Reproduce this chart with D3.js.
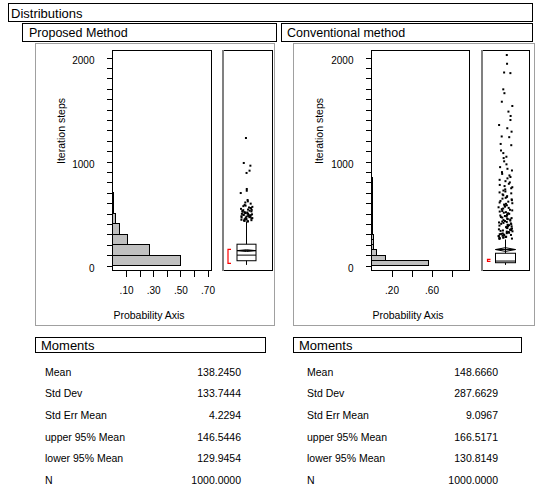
<!DOCTYPE html>
<html>
<head>
<meta charset="utf-8">
<script src="https://cdn.jsdelivr.net/npm/d3@7"></script>
<style>
  body { margin: 0; background: #fff; }
  text { font-family: "Liberation Sans", Arial, sans-serif; fill: #000; }
</style>
</head>
<body>
<div id="chart"></div>
<script>
// histogram probabilities, proposed method uses bins of 100, conventional bins of 50
var leftBinWidth = 100,
    leftProb = [0.50, 0.27, 0.109, 0.053, 0.025, 0.006, 0.004, 0.002, 0.002, 0.002, 0, 0, 0.001];
var rightBinWidth = 50,
    rightProb = [0.565, 0.14, 0.05, 0.02, 0.016, 0.015, 0.013, 0.012, 0.011, 0.01,
                 0.009, 0.008, 0.008, 0.007, 0.006, 0.005, 0.005, 0.004, 0.004, 0.004,
                 0.003, 0.003, 0.003, 0.003, 0.003, 0.003, 0.003, 0.002, 0.002, 0.002,
                 0.002, 0.002, 0.001, 0.002, 0, 0, 0.002, 0, 0.001, 0, 0.001];

// box plot: whisker low, Q1, median, Q3, whisker high
var leftQuart = [1, 41, 95, 200, 417],
    rightQuart = [1, 22, 38, 113, 245];
// mean, lower 95%, upper 95%
var leftMean = [138.245, 129.9454, 146.5446],
    rightMean = [148.666, 130.8149, 166.5171];
// shortest half bracket
var leftHalf = [16, 151],
    rightHalf = [35, 55];

var leftOutliers = [1221, 981, 955, 907, 885, 731, 714, 692, 625, 612, 601, 590,
  578, 571, 566, 559, 553, 548, 546, 540, 533, 531, 527, 522, 519, 515, 512, 508,
  505, 503, 499, 496, 492, 490, 487, 484, 481, 478, 476, 472, 469, 466, 463, 460,
  457, 454, 451, 448, 445, 441, 438, 435, 431, 428, 424, 421, 418];
var rightOutliers = [2019, 1935, 1851, 1845, 1689, 1652, 1570, 1529, 1475, 1433, 1394,
  1346, 1315, 1282, 1236, 1229, 1164, 1152, 1101, 1076, 1041, 1028, 997, 968, 941, 925,
  909, 893, 876, 861, 846, 833, 819, 806, 794, 781, 770, 759, 748, 738, 727, 716, 707,
  698, 689, 679, 671, 662, 654, 646, 638, 631, 623, 616, 609, 601, 594, 588, 581, 574,
  568, 561, 555, 549, 543, 537, 531, 525, 519, 514, 508, 503, 497, 492, 486, 481, 476,
  471, 466, 461, 456, 451, 446, 441, 437, 432, 427, 423, 418, 414, 409, 405, 400, 396,
  392, 387, 383, 379, 375, 371, 367, 363, 359, 355, 351, 347, 343, 339, 335, 332, 328,
  324, 321, 317, 313, 310, 306, 303, 299, 296, 292, 289, 286, 282, 279, 276, 272, 269,
  266, 263, 260, 257, 254, 251];

var leftXTicks = [0.1, 0.2, 0.3, 0.4, 0.5, 0.6, 0.7],
    leftXLabels = [0.1, 0.3, 0.5, 0.7];
var rightXTicks = [0.2, 0.4, 0.6, 0.8],
    rightXLabels = [0.2, 0.6];
var yLabels = [0, 1000, 2000];

var momentNames = ["Mean", "Std Dev", "Std Err Mean", "upper 95% Mean", "lower 95% Mean", "N"];
var leftMoments = ["138.2450", "133.7444", "4.2294", "146.5446", "129.9454", "1000.0000"],
    rightMoments = ["148.6660", "287.6629", "9.0967", "166.5171", "130.8149", "1000.0000"];

var width = 539, height = 498;

var svg = d3.select("#chart").append("svg")
    .attr("width", width)
    .attr("height", height)
    .style("display", "block");

svg.append("rect").attr("width", width).attr("height", height).attr("fill", "#fff");

// horizontal scatter of the outlier points (layout only)
function spread(i) {
  var s = Math.sin(i * 12.9898 + 78.233) * 43758.5453;
  return (s - Math.floor(s)) * 2 - 1;
}

function headerBox(x0, y0, x1, y1, label, size, tx) {
  svg.append("rect")
      .attr("x", x0 + 0.5).attr("y", y0 + 0.5)
      .attr("width", x1 - x0).attr("height", y1 - y0)
      .attr("fill", "#fff").attr("stroke", "#000");
  svg.append("text")
      .attr("x", tx).attr("y", (y0 + y1) / 2 + 1)
      .attr("dy", "0.35em")
      .style("font-size", size + "px")
      .text(label);
}

headerBox(8, 3, 532, 21, "Distributions", 13, 11);
headerBox(22, 23, 276, 41, "Proposed Method", 12.5, 29);
headerBox(281, 23, 532, 41, "Conventional method", 12.5, 287);

function panel(p) {
  var g = svg.append("g").attr("shape-rendering", "crispEdges");

  g.append("rect")
      .attr("x", p.frame[0] + 0.5).attr("y", p.frame[1] + 0.5)
      .attr("width", p.frame[2] - p.frame[0]).attr("height", p.frame[3] - p.frame[1])
      .attr("fill", "none").attr("stroke", "#a0a0a0");

  var y = d3.scaleLinear().domain([0, 2000]).range([265, 57]);
  var x = d3.scaleLinear().domain([0, p.xMax]).range([p.x0, p.xEnd]);
  var top = 50, bottom = 270;

  // histogram bars
  g.selectAll(".bar").data(p.prob).enter().append("rect")
      .attr("class", "bar")
      .attr("x", x(0) + 0.5)
      .attr("y", function(d, i) { return Math.round(y((i + 1) * p.binWidth)) + 0.5; })
      .attr("width", function(d) { return Math.max(0, x(d) - x(0)); })
      .attr("height", function(d, i) { return Math.round(y(i * p.binWidth)) - Math.round(y((i + 1) * p.binWidth)); })
      .attr("fill", "#c0c0c0")
      .attr("stroke", function(d) { return d > 0 ? "#000" : "none"; });

  // plot frames
  g.append("rect")
      .attr("x", p.x0 + 0.5).attr("y", top + 0.5)
      .attr("width", p.x1 - p.x0).attr("height", bottom - top)
      .attr("fill", "none").attr("stroke", "#000");
  g.append("rect")
      .attr("x", p.bx0 + 0.5).attr("y", top + 0.5)
      .attr("width", p.bx1 - p.bx0).attr("height", bottom - top)
      .attr("fill", "none").attr("stroke", "#000");
  g.append("line")
      .attr("x1", p.bx0 + 0.5).attr("x2", p.bx0 + 0.5)
      .attr("y1", top).attr("y2", bottom + 1)
      .attr("stroke", "#808080").attr("stroke-width", 2);

  // y axis
  var yAxis = d3.axisLeft(y)
      .tickValues(d3.range(0, 2001, 100))
      .tickSize(6)
      .tickPadding(12)
      .tickFormat(function(d) { return yLabels.indexOf(d) >= 0 ? d : ""; });
  var ya = svg.append("g")
      .attr("transform", "translate(" + (p.x0 + 0.5) + ",0.5)")
      .call(yAxis);
  ya.select(".domain").remove();
  ya.selectAll("line").attr("stroke", "#000").attr("shape-rendering", "crispEdges");
  ya.selectAll("text")
      .attr("dy", "0.55em")
      .style("font-size", "10px")
      .style("font-family", "'Liberation Sans', Arial, sans-serif");

  // x axis
  var xAxis = d3.axisBottom(x)
      .tickValues(p.xTicks)
      .tickSize(6)
      .tickPadding(10)
      .tickFormat(function(d) {
        return p.xLabels.indexOf(d) >= 0 ? d3.format(".2f")(d).replace(/^0/, "") : "";
      });
  var xa = svg.append("g")
      .attr("transform", "translate(0.5," + (bottom + 0.5) + ")")
      .call(xAxis);
  xa.select(".domain").remove();
  xa.selectAll("line").attr("stroke", "#000").attr("shape-rendering", "crispEdges");
  xa.selectAll("text")
      .style("font-size", "10px")
      .style("font-family", "'Liberation Sans', Arial, sans-serif");

  svg.append("text")
      .attr("x", p.x0 + 37).attr("y", 319)
      .attr("text-anchor", "middle")
      .style("font-size", "10.5px")
      .text("Probability Axis");

  svg.append("text")
      .attr("transform", "translate(" + p.labelX + ",131) rotate(-90)")
      .attr("text-anchor", "middle")
      .style("font-size", "10.5px")
      .text("Iteration steps");

  // outlier box plot
  var q = p.quart, cx = p.cx, hw = p.boxHalf;
  var bp = svg.append("g");
  bp.append("line")
      .attr("x1", cx).attr("x2", cx)
      .attr("y1", y(q[0])).attr("y2", y(q[4]))
      .attr("stroke", "#000");
  bp.append("rect")
      .attr("x", cx - hw).attr("y", y(q[3]))
      .attr("width", 2 * hw).attr("height", y(q[1]) - y(q[3]))
      .attr("fill", "#fff").attr("stroke", "#000");
  bp.append("line")
      .attr("x1", cx - hw).attr("x2", cx + hw)
      .attr("y1", y(q[2])).attr("y2", y(q[2]))
      .attr("stroke", "#000");
  var m = p.mean;
  bp.append("path")
      .attr("d", "M" + (cx - hw) + "," + y(m[0]) +
                 "L" + cx + "," + y(m[2]) +
                 "L" + (cx + hw) + "," + y(m[0]) +
                 "L" + cx + "," + y(m[1]) + "Z")
      .attr("fill", "none").attr("stroke", "#000");
  bp.append("line")
      .attr("x1", cx - hw).attr("x2", cx + hw)
      .attr("y1", y(m[0])).attr("y2", y(m[0]))
      .attr("stroke", "#000");

  // shortest half
  var h0 = y(p.half[0]), h1 = y(p.half[1]), bx = p.bracketX;
  bp.append("path")
      .attr("d", "M" + (bx + 3) + "," + h1 + "H" + bx + "V" + h0 + "H" + (bx + 3))
      .attr("fill", "none").attr("stroke", "#ff0000").attr("stroke-width", 1.2);

  bp.selectAll(".out").data(p.outliers).enter().append("rect")
      .attr("class", "out")
      .attr("x", function(d, i) { return cx - 1 + spread(i + p.seed) * p.jitter; })
      .attr("y", function(d) { return y(d) - 1; })
      .attr("width", 2).attr("height", 2)
      .attr("fill", "#000");
}

panel({
  frame: [35, 43, 274, 325],
  x0: 112, x1: 211, xEnd: 207, xMax: 0.7,
  bx0: 222, bx1: 272,
  prob: leftProb, binWidth: leftBinWidth,
  xTicks: leftXTicks, xLabels: leftXLabels,
  labelX: 65,
  quart: leftQuart, mean: leftMean, half: leftHalf,
  cx: 246.5, boxHalf: 9.5, bracketX: 228,
  outliers: leftOutliers, jitter: 6, seed: 3
});

panel({
  frame: [293, 43, 534, 325],
  x0: 371, x1: 469, xEnd: 451, xMax: 0.8,
  bx0: 481, bx1: 529,
  prob: rightProb, binWidth: rightBinWidth,
  xTicks: rightXTicks, xLabels: rightXLabels,
  labelX: 323,
  quart: rightQuart, mean: rightMean, half: rightHalf,
  cx: 505.5, boxHalf: 10, bracketX: 487.5,
  outliers: rightOutliers, jitter: 7, seed: 11
});

// moments tables
function moments(x0, x1, labelX, valueX, values) {
  headerBox(x0, 337, x1, 352, "Moments", 13, x0 + 6);
  var rows = svg.append("g");
  rows.selectAll(".lab").data(momentNames).enter().append("text")
      .attr("x", labelX)
      .attr("y", function(d, i) { return 372 + i * 21.7; })
      .attr("dy", "0.35em")
      .style("font-size", "10.5px")
      .text(function(d) { return d; });
  rows.selectAll(".val").data(values).enter().append("text")
      .attr("x", valueX)
      .attr("y", function(d, i) { return 372 + i * 21.7; })
      .attr("dy", "0.35em")
      .attr("text-anchor", "end")
      .style("font-size", "10.5px")
      .text(function(d) { return d; });
}

moments(35, 265, 45, 241, leftMoments);
moments(293, 521, 307, 498, rightMoments);
</script>
</body>
</html>
